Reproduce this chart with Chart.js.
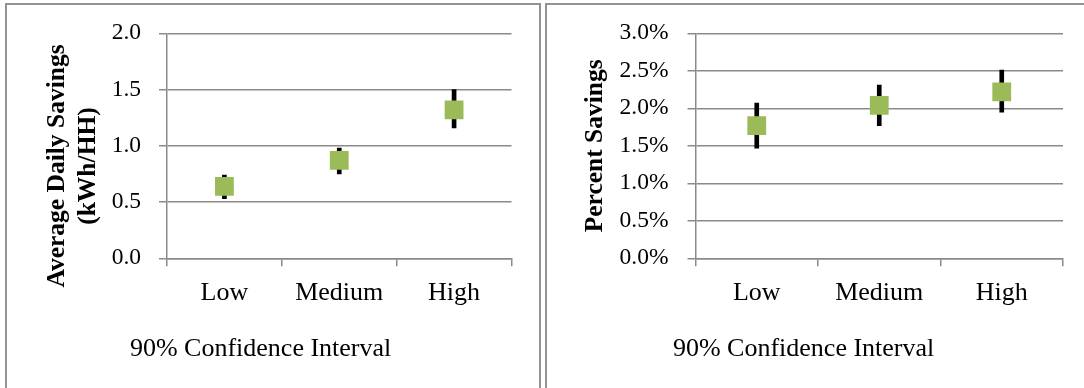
<!DOCTYPE html>
<html>
<head>
<meta charset="utf-8">
<script src="https://cdn.jsdelivr.net/npm/chart.js@4/dist/chart.umd.min.js"></script>
<style>
  html, body { margin: 0; padding: 0; background: #fff; }
  body { width: 1084px; height: 388px; position: relative; overflow: hidden; }
  .panel { position: absolute; top: 3px; height: 460px; box-sizing: border-box; border: 2px solid #939393; }
  #panelLeft { left: 5px; width: 536px; }
  #panelRight { left: 545px; width: 600px; }
  canvas { position: absolute; top: 0; }
  #savingsChart { left: 0; }
  #percentChart { left: 543px; }
</style>
</head>
<body>
<div class="panel" id="panelLeft"></div>
<div class="panel" id="panelRight"></div>
<canvas id="savingsChart" width="543" height="388"></canvas>
<canvas id="percentChart" width="541" height="388"></canvas>
<script>
// Savings by usage group, with 90% confidence interval bounds
const categories = ['Low', 'Medium', 'High'];

const dailySavings = [0.64, 0.87, 1.32];      // kWh per household per day
const dailyLower   = [0.53, 0.75, 1.16];
const dailyUpper   = [0.74, 0.98, 1.50];

const percentSavings = [1.77, 2.04, 2.22];    // percent
const percentLower   = [1.47, 1.77, 1.95];
const percentUpper   = [2.07, 2.31, 2.51];

const dailyTicks   = [0.0, 0.5, 1.0, 1.5, 2.0];
const percentTicks = [0.0, 0.5, 1.0, 1.5, 2.0, 2.5, 3.0];

const xTitle = '90% Confidence Interval';

const SERIF = '"Liberation Serif", "Times New Roman", serif';
const GRID = '#8a8a8a';
const GREEN = '#9BBB59';

// Free-standing titles drawn onto the chart canvas
const panelText = {
  id: 'panelText',
  afterDraw(chart, args, opts) {
    const ctx = chart.ctx;
    (opts.items || []).forEach(t => {
      ctx.save();
      ctx.translate(t.x, t.y);
      if (t.rotate) ctx.rotate(t.rotate);
      ctx.font = t.font;
      ctx.fillStyle = '#000';
      ctx.textAlign = 'center';
      ctx.textBaseline = 'alphabetic';
      ctx.fillText(t.text, 0, 0);
      ctx.restore();
    });
  }
};

function buildChart(id, opt) {
  const toRange = (lo, hi) => lo.map((v, i) => [v, hi[i]]);
  return new Chart(document.getElementById(id), {
    type: 'bar',
    data: {
      labels: categories,
      datasets: [
        {
          type: 'line',
          data: opt.values,
          showLine: false,
          pointStyle: 'rect',
          pointRadius: 13.3,
          pointHoverRadius: 13.3,
          pointBackgroundColor: GREEN,
          pointBorderWidth: 0,
          borderColor: GREEN,
          order: 0
        },
        {
          type: 'bar',
          data: toRange(opt.lower, opt.upper),
          backgroundColor: '#000',
          borderWidth: 0,
          barThickness: 4,
          order: 1
        }
      ]
    },
    options: {
      responsive: false,
      animation: false,
      events: [],
      layout: { padding: opt.padding },
      plugins: {
        legend: { display: false },
        tooltip: { enabled: false },
        panelText: { items: opt.texts }
      },
      scales: {
        x: {
          offset: true,
          grid: {
            offset: true,
            drawOnChartArea: false,
            drawTicks: true,
            tickLength: 8,
            color: GRID,
            lineWidth: 1.5
          },
          border: { display: true, color: GRID, width: 1.5 },
          ticks: {
            color: '#000',
            padding: 11,
            font: { family: SERIF, size: 26 }
          },
          afterFit(scale) { scale.height = 60; }
        },
        y: {
          min: opt.ticks[0],
          max: opt.ticks[opt.ticks.length - 1],
          grid: {
            color: GRID,
            lineWidth: 1.5,
            tickLength: 8
          },
          border: { display: true, color: GRID, width: 1.5 },
          ticks: {
            stepSize: opt.ticks[1] - opt.ticks[0],
            color: '#000',
            padding: opt.tickPad,
            font: { family: SERIF, size: 23.5 },
            callback: opt.format
          },
          afterFit(scale) { scale.width = opt.yWidth; }
        }
      }
    },
    plugins: [panelText]
  });
}

buildChart('savingsChart', {
  values: dailySavings,
  lower: dailyLower,
  upper: dailyUpper,
  ticks: dailyTicks,
  format: v => v.toFixed(1),
  yWidth: 167,
  tickPad: 18,
  padding: { left: 0, right: 31.5, top: 33.3, bottom: 69.7 },
  texts: [
    { text: 'Average Daily Savings', x: 64, y: 166, rotate: -Math.PI / 2, font: 'bold 25.5px ' + SERIF },
    { text: '(kWh/HH)', x: 95, y: 166, rotate: -Math.PI / 2, font: 'bold 25.5px ' + SERIF },
    { text: xTitle, x: 260.6, y: 355.5, font: '26px ' + SERIF }
  ]
});

buildChart('percentChart', {
  values: percentSavings,
  lower: percentLower,
  upper: percentUpper,
  ticks: percentTicks,
  format: v => v.toFixed(1) + '%',
  yWidth: 152.5,
  tickPad: 19,
  padding: { left: 0, right: 21, top: 33.3, bottom: 69.7 },
  texts: [
    { text: 'Percent Savings', x: 58.5, y: 145.8, rotate: -Math.PI / 2, font: 'bold 25.5px ' + SERIF },
    { text: xTitle, x: 260.6, y: 355.5, font: '26px ' + SERIF }
  ]
});
</script>
</body>
</html>
